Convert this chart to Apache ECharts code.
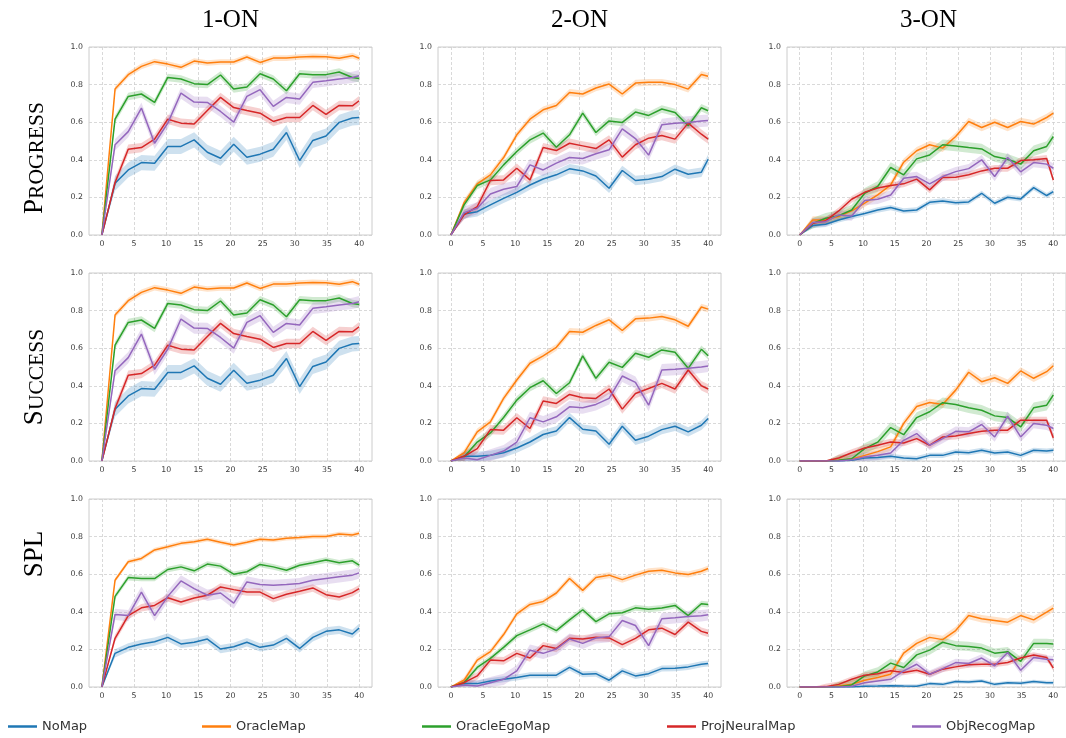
<!DOCTYPE html>
<html>
<head>
<meta charset="utf-8">
<script src="https://cdn.jsdelivr.net/npm/echarts@6/dist/echarts.min.js"></script>
<style>
  html, body { margin: 0; padding: 0; background: #ffffff; }
  #chart { width: 1066px; height: 738px; }
</style>
</head>
<body>
<div id="chart"></div>
<script>
// Training steps (millions) at which each agent was evaluated
const steps = [0, 2.05, 4.1, 6.15, 8.2, 10.25, 12.3, 14.35, 16.4, 18.45, 20.5,
               22.55, 24.6, 26.65, 28.7, 30.75, 32.8, 34.85, 36.9, 38.95, 40];

const methods = ['NoMap', 'OracleMap', 'OracleEgoMap', 'ProjNeuralMap', 'ObjRecogMap'];
const colors = ['#1f77b4', '#ff7f0e', '#2ca02c', '#d62728', '#9467bd'];

const columnTitles = ['1-ON', '2-ON', '3-ON'];
// Row labels in small caps: [large initial, remaining letters]
const rowTitles = [['P', 'ROGRESS'], ['S', 'UCCESS'], ['SPL', '']];

const xTickValues = [0, 5, 10, 15, 20, 25, 30, 35, 40];

// Each panel: one row per method, in the order of `methods`
const progress1on = [
  [0, 0.275, 0.346, 0.385, 0.382, 0.471, 0.471, 0.506, 0.44, 0.408, 0.483, 0.414, 0.43, 0.456, 0.545, 0.396, 0.503, 0.527, 0.599, 0.622, 0.625],
  [0, 0.776, 0.853, 0.897, 0.922, 0.909, 0.892, 0.925, 0.915, 0.92, 0.92, 0.947, 0.918, 0.941, 0.941, 0.947, 0.95, 0.948, 0.94, 0.954, 0.94],
  [0, 0.616, 0.737, 0.75, 0.705, 0.838, 0.83, 0.805, 0.8, 0.851, 0.776, 0.787, 0.858, 0.83, 0.767, 0.858, 0.853, 0.853, 0.867, 0.838, 0.833],
  [0, 0.279, 0.456, 0.465, 0.51, 0.616, 0.595, 0.59, 0.662, 0.732, 0.678, 0.662, 0.648, 0.604, 0.625, 0.625, 0.689, 0.641, 0.689, 0.687, 0.714],
  [0, 0.48, 0.55, 0.675, 0.488, 0.595, 0.755, 0.707, 0.705, 0.657, 0.6, 0.737, 0.773, 0.684, 0.732, 0.723, 0.812, 0.82, 0.83, 0.838, 0.847]
];
const progress2on = [
  [0, 0.112, 0.124, 0.16, 0.195, 0.227, 0.266, 0.298, 0.32, 0.352, 0.341, 0.314, 0.249, 0.343, 0.29, 0.297, 0.311, 0.35, 0.323, 0.334, 0.403],
  [0, 0.172, 0.272, 0.32, 0.412, 0.533, 0.616, 0.666, 0.689, 0.758, 0.75, 0.782, 0.803, 0.75, 0.808, 0.812, 0.812, 0.8, 0.776, 0.854, 0.844],
  [0, 0.16, 0.263, 0.293, 0.373, 0.444, 0.506, 0.542, 0.467, 0.533, 0.648, 0.545, 0.607, 0.599, 0.654, 0.636, 0.67, 0.652, 0.581, 0.677, 0.661],
  [0, 0.107, 0.151, 0.29, 0.293, 0.355, 0.293, 0.465, 0.449, 0.488, 0.474, 0.46, 0.506, 0.414, 0.48, 0.515, 0.529, 0.51, 0.595, 0.536, 0.51],
  [0, 0.119, 0.142, 0.218, 0.243, 0.258, 0.373, 0.346, 0.382, 0.412, 0.407, 0.432, 0.453, 0.565, 0.513, 0.425, 0.586, 0.595, 0.599, 0.606, 0.609]
];
const progress3on = [
  [0, 0.05, 0.057, 0.08, 0.098, 0.114, 0.133, 0.146, 0.128, 0.133, 0.174, 0.181, 0.172, 0.176, 0.222, 0.169, 0.201, 0.192, 0.252, 0.21, 0.231],
  [0, 0.08, 0.08, 0.098, 0.128, 0.169, 0.213, 0.266, 0.387, 0.448, 0.48, 0.462, 0.524, 0.604, 0.572, 0.6, 0.572, 0.604, 0.59, 0.625, 0.648],
  [0, 0.062, 0.089, 0.103, 0.133, 0.222, 0.258, 0.359, 0.32, 0.405, 0.426, 0.48, 0.474, 0.465, 0.458, 0.417, 0.403, 0.377, 0.448, 0.471, 0.524],
  [0, 0.062, 0.076, 0.128, 0.19, 0.227, 0.25, 0.263, 0.272, 0.297, 0.24, 0.306, 0.307, 0.32, 0.341, 0.355, 0.355, 0.396, 0.4, 0.407, 0.293],
  [0, 0.066, 0.071, 0.107, 0.101, 0.183, 0.19, 0.213, 0.302, 0.311, 0.272, 0.311, 0.337, 0.353, 0.4, 0.311, 0.412, 0.336, 0.385, 0.377, 0.355]
];
const success1on = progress1on;
const success2on = [
  [0, 0.025, 0.025, 0.03, 0.044, 0.069, 0.101, 0.141, 0.16, 0.231, 0.169, 0.16, 0.089, 0.185, 0.11, 0.132, 0.167, 0.185, 0.155, 0.19, 0.226],
  [0, 0.043, 0.155, 0.208, 0.333, 0.431, 0.52, 0.559, 0.605, 0.689, 0.685, 0.721, 0.751, 0.694, 0.756, 0.76, 0.769, 0.751, 0.717, 0.819, 0.808],
  [0, 0.021, 0.101, 0.149, 0.231, 0.324, 0.39, 0.427, 0.359, 0.416, 0.559, 0.44, 0.525, 0.498, 0.573, 0.552, 0.591, 0.578, 0.493, 0.594, 0.56],
  [0, 0.025, 0.066, 0.167, 0.164, 0.23, 0.173, 0.319, 0.306, 0.354, 0.336, 0.333, 0.383, 0.276, 0.359, 0.386, 0.413, 0.383, 0.484, 0.4, 0.383],
  [0, 0.016, 0.007, 0.03, 0.053, 0.101, 0.23, 0.208, 0.235, 0.288, 0.283, 0.301, 0.333, 0.452, 0.418, 0.297, 0.484, 0.488, 0.493, 0.5, 0.505]
];
const success3on = [
  [0, 0, 0, 0, 0.004, 0.016, 0.018, 0.025, 0.016, 0.012, 0.03, 0.03, 0.048, 0.044, 0.057, 0.043, 0.048, 0.03, 0.057, 0.053, 0.057],
  [0, 0, 0, 0.004, 0.01, 0.03, 0.05, 0.075, 0.2, 0.29, 0.311, 0.301, 0.377, 0.472, 0.422, 0.443, 0.413, 0.479, 0.44, 0.475, 0.507],
  [0, 0, 0, 0.004, 0.012, 0.066, 0.1, 0.178, 0.14, 0.231, 0.262, 0.31, 0.301, 0.283, 0.27, 0.24, 0.231, 0.181, 0.283, 0.297, 0.351],
  [0, 0, 0, 0.016, 0.044, 0.069, 0.084, 0.101, 0.096, 0.119, 0.084, 0.128, 0.133, 0.146, 0.158, 0.164, 0.164, 0.217, 0.217, 0.217, 0.123],
  [0, 0, 0, 0, 0.007, 0.021, 0.03, 0.043, 0.11, 0.146, 0.084, 0.119, 0.158, 0.155, 0.194, 0.128, 0.238, 0.128, 0.199, 0.19, 0.173]
];
const spl1on = [
  [0, 0.179, 0.211, 0.229, 0.241, 0.264, 0.229, 0.238, 0.255, 0.202, 0.214, 0.238, 0.211, 0.223, 0.259, 0.205, 0.264, 0.296, 0.304, 0.282, 0.314],
  [0, 0.568, 0.666, 0.684, 0.729, 0.746, 0.764, 0.773, 0.786, 0.77, 0.755, 0.77, 0.786, 0.782, 0.791, 0.795, 0.8, 0.8, 0.814, 0.809, 0.818],
  [0, 0.482, 0.582, 0.577, 0.577, 0.625, 0.639, 0.618, 0.654, 0.643, 0.6, 0.613, 0.652, 0.639, 0.621, 0.648, 0.661, 0.675, 0.661, 0.671, 0.648],
  [0, 0.259, 0.38, 0.421, 0.434, 0.475, 0.452, 0.473, 0.488, 0.532, 0.518, 0.505, 0.505, 0.47, 0.493, 0.509, 0.527, 0.491, 0.479, 0.502, 0.523],
  [0, 0.386, 0.38, 0.505, 0.38, 0.482, 0.564, 0.523, 0.488, 0.5, 0.446, 0.559, 0.545, 0.541, 0.545, 0.55, 0.568, 0.577, 0.586, 0.595, 0.607]
];
const spl2on = [
  [0, 0.018, 0.018, 0.032, 0.041, 0.05, 0.063, 0.063, 0.063, 0.104, 0.068, 0.071, 0.036, 0.086, 0.059, 0.071, 0.098, 0.1, 0.107, 0.121, 0.125],
  [0, 0.036, 0.143, 0.188, 0.279, 0.389, 0.439, 0.455, 0.5, 0.577, 0.514, 0.582, 0.595, 0.571, 0.595, 0.616, 0.621, 0.607, 0.598, 0.616, 0.63],
  [0, 0.023, 0.104, 0.152, 0.211, 0.273, 0.304, 0.336, 0.3, 0.357, 0.411, 0.348, 0.389, 0.395, 0.421, 0.413, 0.42, 0.434, 0.38, 0.443, 0.439],
  [0, 0.023, 0.059, 0.143, 0.139, 0.179, 0.154, 0.22, 0.205, 0.259, 0.255, 0.264, 0.261, 0.225, 0.259, 0.304, 0.313, 0.279, 0.345, 0.296, 0.286],
  [0, 0.011, 0.005, 0.023, 0.041, 0.086, 0.196, 0.179, 0.202, 0.255, 0.232, 0.261, 0.268, 0.354, 0.327, 0.22, 0.363, 0.368, 0.375, 0.379, 0.384]
];
const spl3on = [
  [0, 0, 0, 0, 0, 0.004, 0.005, 0.007, 0.005, 0.004, 0.018, 0.014, 0.029, 0.027, 0.032, 0.014, 0.023, 0.02, 0.029, 0.023, 0.023],
  [0, 0, 0, 0.005, 0.014, 0.036, 0.05, 0.068, 0.18, 0.232, 0.264, 0.252, 0.3, 0.38, 0.363, 0.354, 0.345, 0.38, 0.357, 0.398, 0.42],
  [0, 0, 0, 0.002, 0.011, 0.059, 0.08, 0.127, 0.104, 0.171, 0.196, 0.238, 0.22, 0.216, 0.207, 0.18, 0.188, 0.136, 0.232, 0.232, 0.229],
  [0, 0, 0.002, 0.014, 0.041, 0.063, 0.071, 0.086, 0.077, 0.089, 0.068, 0.095, 0.107, 0.118, 0.121, 0.121, 0.13, 0.154, 0.17, 0.157, 0.1],
  [0, 0, 0, 0, 0.004, 0.023, 0.032, 0.041, 0.086, 0.121, 0.068, 0.098, 0.13, 0.125, 0.154, 0.113, 0.184, 0.089, 0.157, 0.148, 0.145]
];

// Half-width of the shaded confidence band for each method, per panel
const band1on = [0.04, 0.015, 0.02, 0.025, 0.03];
const band2on = [0.025, 0.018, 0.02, 0.025, 0.032];
const band3on = [0.014, 0.02, 0.028, 0.018, 0.025];
const bandSpl1on = [0.022, 0.012, 0.015, 0.02, 0.03];
const bandSpl2on = [0.016, 0.016, 0.016, 0.02, 0.03];
const bandSpl3on = [0.01, 0.02, 0.025, 0.015, 0.02];

const panels = [
  [progress1on, progress2on, progress3on],
  [success1on, success2on, success3on],
  [spl1on, spl2on, spl3on]
];
const panelBands = [
  [band1on, band2on, band3on],
  [band1on, band2on, band3on],
  [bandSpl1on, bandSpl2on, bandSpl3on]
];

// ---- layout ----
const colLeft = [89, 438, 787];
const rowTop = [47, 273, 499];
const plotW = 283;
const plotH = 188;
const rowLabelY = [158, 377, 554];
const legendLeft = [8, 202, 422, 667, 912];

const tickFont = { fontFamily: 'DejaVu Sans', fontSize: 7.8, color: '#3a3a3a' };
const serif = 'Liberation Serif';

function withAlpha(hex, a) {
  const n = parseInt(hex.slice(1), 16);
  return 'rgba(' + (n >> 16) + ',' + ((n >> 8) & 255) + ',' + (n & 255) + ',' + a + ')';
}

const grids = [], xAxes = [], yAxes = [], series = [], graphics = [];

for (let r = 0; r < 3; r++) {
  for (let c = 0; c < 3; c++) {
    const idx = r * 3 + c;
    grids.push({
      left: colLeft[c], top: rowTop[r], width: plotW, height: plotH,
      show: true, borderColor: '#cccccc', borderWidth: 1, backgroundColor: '#ffffff'
    });
    xAxes.push({
      type: 'value', gridIndex: idx, min: -2, max: 42,
      axisLine: { show: false },
      axisTick: { show: false, customValues: xTickValues },
      axisLabel: Object.assign({ margin: 5, customValues: xTickValues }, tickFont),
      splitLine: { show: true, lineStyle: { color: '#cfcfcf', width: 0.8, type: [3, 2] } }
    });
    yAxes.push({
      type: 'value', gridIndex: idx, min: 0, max: 1, interval: 0.2,
      axisLine: { show: false }, axisTick: { show: false },
      axisLabel: Object.assign({ margin: 6, formatter: v => v.toFixed(1) }, tickFont),
      splitLine: { show: true, lineStyle: { color: '#cfcfcf', width: 0.8, type: [3, 2] } }
    });

    const data = panels[r][c];
    const halfW = panelBands[r][c];
    methods.forEach((name, m) => {
      const vals = data[m];
      const lo = vals.map(v => (v > 0 ? Math.max(0, v - halfW[m]) : v));
      const hi = vals.map(v => (v > 0 ? v + halfW[m] : v));
      const fill = withAlpha(colors[m], 0.22);
      series.push({
        type: 'custom', name: name + ' band', coordinateSystem: 'cartesian2d',
        xAxisIndex: idx, yAxisIndex: idx, silent: true, z: 2,
        data: steps.map((x, i) => [x, lo[i], hi[i]]),
        encode: { x: 0, y: [1, 2] },
        renderItem: function (params, api) {
          if (params.dataIndex !== 0) return null;
          const pts = [];
          for (let i = 0; i < steps.length; i++) pts.push(api.coord([steps[i], hi[i]]));
          for (let i = steps.length - 1; i >= 0; i--) pts.push(api.coord([steps[i], lo[i]]));
          return { type: 'polygon', shape: { points: pts }, style: { fill: fill, stroke: null } };
        }
      });
      series.push({
        type: 'line', name: name, xAxisIndex: idx, yAxisIndex: idx, z: 3,
        data: steps.map((x, i) => [x, vals[i]]),
        showSymbol: false, symbol: 'none', animation: false,
        lineStyle: { color: colors[m], width: 1.5 },
        itemStyle: { color: colors[m] }
      });
    });
  }
}

// Column titles
columnTitles.forEach((t, c) => {
  graphics.push({
    type: 'text', x: colLeft[c] + plotW / 2, y: 20,
    style: { text: t, fontFamily: serif, fontSize: 25, fill: '#000', align: 'center', verticalAlign: 'middle' }
  });
});

// Row titles, rotated, in small caps
rowTitles.forEach((t, r) => {
  const text = t[1] ? '{big|' + t[0] + '}{small|' + t[1] + '}' : '{big|' + t[0] + '}';
  graphics.push({
    type: 'text', x: 34, y: rowLabelY[r], rotation: Math.PI / 2,
    style: {
      text: text, align: 'center', verticalAlign: 'middle', fill: '#000',
      rich: {
        big: { fontFamily: serif, fontSize: 27, lineHeight: 28, verticalAlign: 'bottom', fill: '#000' },
        small: { fontFamily: serif, fontSize: 21.5, lineHeight: 28, verticalAlign: 'bottom', fill: '#000' }
      }
    }
  });
});

// One legend entry per method, spread across the bottom
const legends = methods.map((name, m) => ({
  data: [name], left: legendLeft[m], top: 720, padding: 0,
  itemWidth: 29, itemHeight: 2.5, itemGap: 0, textGap: 10, icon: 'rect',
  textStyle: { fontFamily: 'DejaVu Sans', fontSize: 13, color: '#333' }
}));

const chart = echarts.init(document.getElementById('chart'), null, { renderer: 'canvas' });
chart.setOption({
  animation: false,
  backgroundColor: '#ffffff',
  grid: grids,
  xAxis: xAxes,
  yAxis: yAxes,
  legend: legends,
  graphic: graphics,
  series: series
});
</script>
</body>
</html>
